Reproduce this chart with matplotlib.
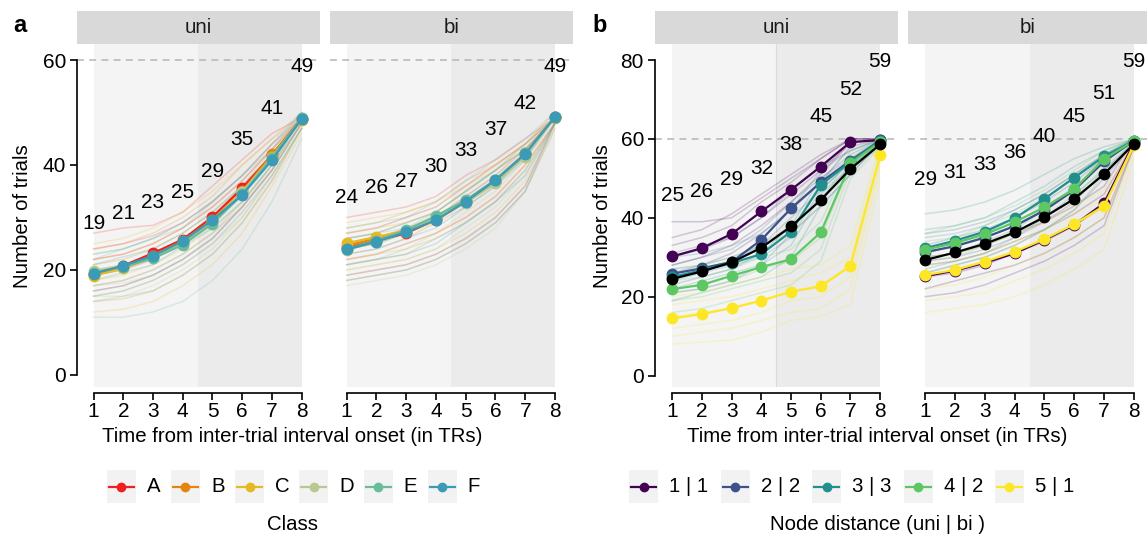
import matplotlib
matplotlib.use("Agg")
import matplotlib.pyplot as plt
from matplotlib.patches import Rectangle

plt.rcParams['font.family'] = ['Liberation Sans', 'DejaVu Sans']

W, H = 1147, 538

tr = [1, 2, 3, 4, 5, 6, 7, 8]

# ---- panel a: class ----
classes = ['A', 'B', 'C', 'D', 'E', 'F']
class_colors = ['#F0201E', '#E38510', '#E8B822', '#B7C98E', '#69BC98', '#3B9AB5']

a_uni_means = [
    [19.3, 20.8, 23.2, 25.8, 30.1, 35.6, 41.9, 48.8],
    [19.0, 20.5, 22.7, 25.5, 29.6, 35.0, 42.0, 48.7],
    [18.9, 20.3, 22.4, 25.2, 29.4, 34.8, 41.6, 48.6],
    [19.8, 20.6, 22.5, 25.0, 29.3, 34.8, 41.4, 48.8],
    [19.5, 20.6, 22.2, 24.8, 28.8, 34.4, 41.4, 48.9],
    [19.3, 20.8, 22.7, 25.5, 29.5, 34.3, 40.9, 48.8],
]
a_bi_means = [
    [24.2, 25.6, 27.0, 29.6, 33.0, 36.8, 42.0, 49.1],
    [24.6, 26.0, 27.3, 29.8, 33.1, 37.0, 42.2, 49.1],
    [25.1, 26.3, 27.5, 29.9, 33.2, 36.9, 42.1, 49.0],
    [23.8, 25.4, 27.4, 30.0, 32.8, 36.5, 41.6, 49.1],
    [24.0, 25.6, 27.6, 30.3, 33.3, 37.2, 42.2, 49.2],
    [23.9, 25.4, 27.2, 29.5, 33.0, 37.1, 42.1, 49.2],
]
a_uni_labels = [19, 21, 23, 25, 29, 35, 41, 49]
a_bi_labels = [24, 26, 27, 30, 33, 37, 42, 49]

# individual subjects (faint), per class
a_uni_subj = [
    [[27, 28, 28.5, 31, 36, 41, 46, 49], [22, 23, 25, 28, 32, 37, 43, 49], [16, 17, 19, 22, 26, 32, 39, 48],
     [24, 25, 26.5, 29, 33, 38, 44, 49], [19, 20, 22, 25, 29, 35, 42, 49]],
    [[24, 25, 27, 30, 34, 40, 45, 50], [20, 21, 23, 26, 30, 35, 41, 49], [14, 14.5, 16, 19, 23, 29, 37, 47],
     [22, 23, 25, 28, 32, 37, 43, 49], [17, 18, 20, 23, 27, 32, 39, 48]],
    [[25, 26, 28, 31, 35, 40, 45, 49], [18, 19, 21, 24, 28, 33, 40, 48], [12, 12.5, 14, 17, 21, 27, 36, 46],
     [21, 22, 24, 27, 31, 36, 42, 49], [15, 16, 18, 21, 25, 30, 38, 47]],
    [[23, 24, 26, 29, 33, 38, 44, 49], [19, 20, 22, 25, 29, 34, 41, 49], [15, 15, 17, 20, 24, 30, 38, 47],
     [21, 22, 24, 27, 31, 36, 43, 49], [17, 17.5, 19, 22, 26, 32, 40, 48]],
    [[22, 24, 26, 28, 33, 38, 43, 50], [17, 18, 20, 23, 27, 33, 40, 48], [11, 11, 12, 14, 18, 24, 33, 45],
     [20, 21, 23, 26, 30, 35, 42, 49], [14, 15, 16, 19, 23, 29, 37, 47]],
    [[21, 22.5, 24, 27, 31, 36, 42, 49], [18, 19.5, 21, 24.5, 28, 33, 40, 49], [15, 16, 18, 21, 25, 31, 38, 47],
     [23, 24, 26, 29, 33, 38, 44, 50], [16, 17, 19, 22, 26, 32, 39, 48]],
]
a_bi_subj = [
    [[30, 31, 32, 34, 38, 41, 45, 49], [25, 26, 28, 30, 34, 38, 43, 49], [19, 20, 21, 23, 26, 30, 36, 48],
     [27, 28, 30, 32, 36, 40, 44, 49], [22, 23, 25, 27, 30, 34, 40, 48]],
    [[28, 29, 31, 33, 37, 40, 44, 50], [23, 24, 26, 29, 32, 36, 42, 49], [18, 19, 20, 22, 25, 29, 35, 47],
     [26, 27, 29, 31, 35, 39, 43, 49], [21, 22, 23, 26, 29, 33, 39, 48]],
    [[29, 30, 31, 33, 36, 40, 44, 49], [24, 25, 27, 29, 33, 37, 42, 49], [20, 21, 22, 24, 27, 31, 37, 48],
     [27, 28, 29, 31, 35, 39, 43, 49], [22, 23, 24, 27, 30, 34, 40, 48]],
    [[27, 28, 30, 32, 36, 39, 44, 49], [22, 23, 25, 27, 31, 35, 41, 49], [17, 18, 19, 21, 24, 28, 35, 47],
     [25, 26, 28, 30, 34, 38, 42, 49], [20, 21, 22, 24, 28, 32, 38, 48]],
    [[28, 29, 30, 33, 37, 41, 45, 50], [24, 25, 27, 30, 33, 37, 42, 49], [19, 20, 21, 23, 26, 30, 36, 48],
     [26, 27, 28, 31, 35, 39, 44, 49], [21, 22, 24, 26, 29, 33, 39, 48]],
    [[26, 27, 29, 31, 35, 39, 43, 49], [23, 24, 26, 28, 32, 36, 41, 49], [18, 19, 20, 22, 25, 29, 35, 48],
     [24, 25, 27, 30, 33, 37, 42, 49], [21, 22, 23, 25, 29, 33, 38, 48]],
]

# ---- panel b: node distance ----
dists = ['1 | 1', '2 | 2', '3 | 3', '4 | 2', '5 | 1']
dist_colors = ['#440154', '#3B528B', '#21908C', '#5DC863', '#FDE725']

b_uni_means = [
    [30.2, 32.3, 35.9, 41.6, 47.1, 53.0, 59.2, 59.7],
    [25.8, 27.2, 28.8, 34.4, 42.4, 49.0, 54.5, 59.6],
    [25.0, 26.7, 28.5, 30.8, 36.5, 48.3, 54.2, 59.5],
    [21.9, 23.0, 25.3, 27.5, 29.5, 36.3, 53.8, 59.3],
    [14.5, 15.6, 17.1, 19.0, 21.3, 22.6, 27.8, 55.9],
]
b_bi_means = [
    [25.2, 26.6, 28.6, 31.0, 34.4, 38.2, 43.7, 59.0],
    [31.3, 32.8, 35.0, 37.9, 41.9, 47.0, 54.3, 59.5],
    [32.3, 34.2, 36.5, 39.9, 44.8, 50.2, 55.6, 59.5],
    [31.9, 33.6, 35.8, 38.9, 42.7, 47.3, 54.9, 59.5],
    [25.5, 26.8, 28.9, 31.4, 34.6, 38.4, 43.0, 58.5],
]
b_uni_grand = [24.5, 26.4, 28.7, 32.4, 37.8, 44.5, 52.4, 58.6]
b_bi_grand = [29.3, 31.2, 33.4, 36.3, 40.2, 44.8, 51.1, 58.7]
b_uni_labels = [25, 26, 29, 32, 38, 45, 52, 59]
b_bi_labels = [29, 31, 33, 36, 40, 45, 51, 59]

b_uni_subj = [
    [[39, 39, 40, 45, 50, 55, 60, 60], [33, 35, 38, 44, 49, 55, 60, 60], [28, 30, 33, 38, 44, 51, 59, 60],
     [26, 28, 31, 36, 42, 49, 58, 60], [35, 37, 41, 46, 51, 56, 60, 60], [30, 32, 35, 40, 46, 52, 59, 60]],
    [[31, 33, 35, 40, 47, 53, 57, 60], [25, 27, 29, 33, 40, 47, 54, 60], [21, 22, 24, 28, 36, 43, 51, 59],
     [28, 30, 32, 37, 44, 50, 56, 60], [23, 25, 27, 31, 38, 45, 53, 59]],
    [[30, 31, 33, 36, 42, 52, 57, 60], [24, 26, 28, 30, 35, 47, 54, 60], [19, 21, 23, 25, 30, 43, 51, 59],
     [27, 28, 30, 33, 38, 50, 55, 60], [22, 24, 26, 28, 33, 46, 53, 59]],
    [[27, 28, 30, 33, 36, 43, 57, 60], [21, 22, 24, 27, 29, 35, 53, 59], [16, 17, 19, 21, 23, 29, 50, 58],
     [24, 25, 27, 30, 32, 39, 55, 60], [19, 20, 22, 24, 26, 32, 52, 58]],
    [[20, 21, 23, 25, 27, 28, 33, 59], [15, 16, 17, 19, 21, 23, 28, 56], [10, 11, 12, 14, 16, 17, 22, 53],
     [8, 8.5, 9, 11, 14, 15, 18, 50], [18, 19, 20, 22, 24, 26, 30, 58], [12, 13, 14, 16, 19, 20, 25, 54]],
]
b_bi_subj = [
    [[30, 31, 33, 36, 39, 43, 48, 60], [25, 26, 28, 31, 34, 38, 43, 59], [20, 21, 23, 26, 29, 33, 38, 58],
     [28, 29, 31, 34, 37, 41, 46, 59], [22, 24, 26, 28, 31, 35, 40, 58]],
    [[36, 37, 39, 42, 46, 51, 56, 60], [31, 33, 35, 38, 42, 47, 54, 60], [26, 28, 30, 33, 37, 42, 50, 59],
     [33, 35, 37, 40, 44, 49, 55, 60], [29, 30, 32, 35, 39, 44, 52, 59]],
    [[41, 42, 44, 47, 51, 55, 58, 60], [37, 38, 40, 44, 48, 53, 57, 60], [32, 34, 36, 40, 45, 50, 55, 60],
     [27, 29, 31, 35, 40, 46, 52, 59], [35, 36, 38, 42, 46, 51, 56, 60], [30, 31, 34, 37, 42, 48, 54, 60]],
    [[36, 38, 40, 43, 47, 52, 57, 60], [31, 33, 35, 38, 42, 47, 55, 60], [26, 28, 30, 33, 37, 42, 51, 59],
     [34, 35, 38, 41, 45, 50, 56, 60], [29, 30, 33, 36, 40, 45, 53, 59]],
    [[30, 31, 33, 36, 39, 43, 47, 59], [25, 27, 29, 31, 34, 38, 43, 58], [19, 20, 21, 24, 27, 31, 36, 57],
     [16, 17, 18, 20, 23, 27, 32, 55], [28, 29, 31, 34, 37, 41, 45, 59], [22, 23, 25, 28, 31, 35, 40, 57]],
]

FS = 15      # tick labels and count labels
TFS = 14.7   # titles / legend

fig = plt.figure(figsize=(W / 100, H / 100), dpi=100)


def px_axes(x0, x1, y0=44, y1=387):
    return fig.add_axes([x0 / W, (H - y1) / H, (x1 - x0) / W, (y1 - y0) / H])


def panel(ax, title, subj, means, colors, labels, lab_off, ylim, yticks,
          first, grand=None, split_line=False):
    ax.set_facecolor('white')
    ax.axvspan(1, 4.5, color='#F4F4F4', zorder=0, lw=0)
    ax.axvspan(4.5, 8, color='#EBEBEB', zorder=0, lw=0)
    if split_line:
        ax.axvline(4.5, color='#DADADA', lw=0.8, zorder=0.5)
    ax.axhline(60, color='#B5B5B5', lw=1.1, ls=(0, (4.5, 3.5)), zorder=1, clip_on=False)
    for lines, c in zip(subj, colors):
        for ys in lines:
            ax.plot(tr, ys, color=c, alpha=0.2, lw=1.1, zorder=2)
    for ys, c in zip(means, colors):
        ax.plot(tr, ys, color=c, lw=1.6, marker='o', ms=7.5, zorder=4)
    if grand is not None:
        ax.plot(tr, grand, color='black', lw=1.6, marker='o', ms=7.5, zorder=5)
    for t, v in zip(tr, labels):
        ax.text(t, v + lab_off, str(v), ha='center', va='center', fontsize=FS,
                clip_on=False, zorder=6)
    ax.set_ylim(*ylim)
    ax.set_xticks(tr)
    ax.set_xticklabels([str(t) for t in tr])
    ax.spines['top'].set_visible(False)
    ax.spines['right'].set_visible(False)
    ax.spines['bottom'].set_bounds(1, 8)
    ax.spines['bottom'].set_position(('outward', 4))
    ax.spines['bottom'].set_linewidth(1.2)
    ax.tick_params(axis='x', length=5, width=1.2, pad=2, colors='black', labelsize=FS)
    if first:
        ax.spines['left'].set_bounds(yticks[0], yticks[-1])
        ax.spines['left'].set_linewidth(1.2)
        ax.set_yticks(yticks)
        ax.set_yticklabels([str(v) for v in yticks])
        ax.tick_params(axis='y', length=5, width=1.2, pad=3, colors='black', labelsize=FS)
    else:
        ax.spines['left'].set_visible(False)
        ax.set_yticks([])
    # facet strip
    h = 33 / 343
    ax.add_patch(Rectangle((0, 1), 1, h, transform=ax.transAxes, color='#D9D9D9',
                           clip_on=False, lw=0))
    ax.text(0.5, 1 + h / 2, title, transform=ax.transAxes, ha='center', va='center',
            fontsize=TFS, color='#1A1A1A')


ax1 = px_axes(77, 320)
ax1.set_xlim(0.445, 8.615)
panel(ax1, 'uni', a_uni_subj, a_uni_means, class_colors, a_uni_labels, 9.8,
      (-2.3, 63.05), [0, 20, 40, 60], True)

ax2 = px_axes(330, 573)
ax2.set_xlim(0.44, 8.605)
panel(ax2, 'bi', a_bi_subj, a_bi_means, class_colors, a_bi_labels, 9.8,
      (-2.3, 63.05), [0, 20, 40, 60], False)

ax3 = px_axes(655, 898)
ax3.set_xlim(0.42, 8.6)
panel(ax3, 'uni', b_uni_subj, b_uni_means, dist_colors, b_uni_labels, 20.6,
      (-2.9, 84.06), [0, 20, 40, 60, 80], True, grand=b_uni_grand, split_line=True)

ax4 = px_axes(908, 1147)
ax4.set_xlim(0.42, 8.44)
panel(ax4, 'bi', b_bi_subj, b_bi_means, dist_colors, b_bi_labels, 20.6,
      (-2.9, 84.06), [0, 20, 40, 60, 80], False, grand=b_bi_grand)

# figure-level texts
fig.text(13 / W, 1 - 25 / H, 'a', fontsize=17, fontweight='bold', va='center', ha='left')
fig.text(592 / W, 1 - 25 / H, 'b', fontsize=17, fontweight='bold', va='center', ha='left')
for x in (22, 602):
    fig.text(x / W, 1 - 216 / H, 'Number of trials', rotation=90, fontsize=TFS,
             ha='center', va='center')
for x in (292, 877):
    fig.text(x / W, 1 - 436 / H, 'Time from inter-trial interval onset (in TRs)',
             fontsize=TFS, ha='center', va='center')

# legends drawn in pixel space
lg = fig.add_axes([0, 0, 1, 1], zorder=-1)
lg.set_xlim(0, W)
lg.set_ylim(H, 0)
lg.axis('off')


def legend_row(names, colors, x0, step, title, title_x):
    for i, (n, c) in enumerate(zip(names, colors)):
        kx = x0 + i * step
        lg.add_patch(Rectangle((kx, 470), 29, 33, color='#F2F2F2', lw=0))
        lg.plot([kx + 2, kx + 27], [486.5, 486.5], color=c, lw=1.6)
        lg.plot([kx + 14.5], [486.5], 'o', color=c, ms=6)
        lg.text(kx + 40, 487, n, fontsize=TFS, va='center', ha='left')
    lg.text(title_x, 525, title, fontsize=TFS, va='center', ha='center')


legend_row(classes, class_colors, 106.7, 64.2, 'Class', 292)
legend_row(dists, dist_colors, 629.3, 91.4, 'Node distance (uni | bi )', 877)

fig.savefig('out.png', dpi=100)
